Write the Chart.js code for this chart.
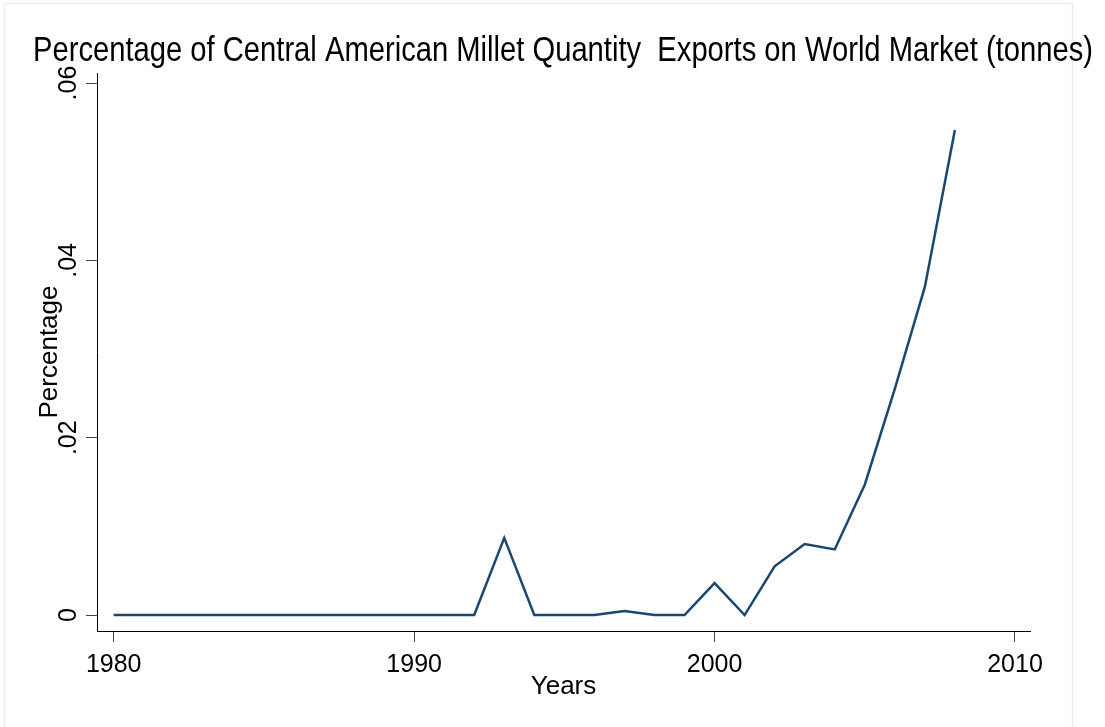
<!DOCTYPE html>
<html>
<head>
<meta charset="utf-8">
<script src="https://cdn.jsdelivr.net/npm/chart.js@4/dist/chart.umd.min.js"></script>
<style>
html, body { margin: 0; padding: 0; background: #ffffff; }
canvas { display: block; }
</style>
</head>
<body>
<canvas id="c" width="1105" height="727"></canvas>
<script>
// ---- data ----
const years = [1980, 1981, 1982, 1983, 1984, 1985, 1986, 1987, 1988, 1989,
               1990, 1991, 1992, 1993, 1994, 1995, 1996, 1997, 1998, 1999,
               2000, 2001, 2002, 2003, 2004, 2005, 2006, 2007, 2008];
const percentage = [0, 0, 0, 0, 0, 0, 0, 0, 0, 0,
                    0, 0, 0, 0.0087, 0, 0, 0, 0.00045, 0, 0,
                    0.0036, 0, 0.0055, 0.0080, 0.0074, 0.0147, 0.0255, 0.0370, 0.0547];
const xTickValues = [1980, 1990, 2000, 2010];
const xTickLabels = ['1980', '1990', '2000', '2010'];
const yTickValues = [0, 0.02, 0.04, 0.06];
const yTickLabels = ['0', '.02', '.04', '.06'];
const titleText = 'Percentage of Central American Millet Quantity  Exports on World Market (tonnes)';
const xTitle = 'Years';
const yTitle = 'Percentage';

const FONT = '"Liberation Sans", Arial, Helvetica, sans-serif';

const framePlugin = {
  id: 'frame',
  beforeDraw(chart) {
    const ctx = chart.ctx;
    ctx.save();
    ctx.fillStyle = '#ffffff';
    ctx.fillRect(0, 0, chart.width, chart.height);
    ctx.strokeStyle = '#e6eef2';
    ctx.lineWidth = 1.5;
    ctx.strokeRect(4.5, 3.5, 1068, 740);
    ctx.restore();
  }
};

new Chart(document.getElementById('c'), {
  type: 'line',
  data: {
    datasets: [{
      data: years.map((y, i) => ({ x: y, y: percentage[i] })),
      borderColor: '#1a476f',
      backgroundColor: '#1a476f',
      borderWidth: 2.5,
      pointRadius: 0,
      tension: 0,
      fill: false,
      yAxisID: 'y',
      xAxisID: 'x'
    }]
  },
  options: {
    responsive: false,
    animation: false,
    devicePixelRatio: 1,
    layout: { padding: { left: 33, right: 12, top: 30.5, bottom: 24.7 } },
    plugins: {
      legend: { display: false },
      tooltip: { enabled: false },
      title: {
        display: true,
        text: titleText,
        align: 'start',
        color: '#000000',
        font: { family: FONT, size: 35, weight: 'normal', lineHeight: 1.2 },
        padding: { top: 0, bottom: 0.5 }
      }
    },
    scales: {
      x: {
        type: 'linear',
        position: 'bottom',
        min: 1979.444,
        max: 2010.5,
        afterBuildTicks: s => { s.ticks = xTickValues.map(v => ({ value: v })); },
        afterFit: s => { s.height = 71.3; },
        grid: { drawOnChartArea: false, drawTicks: true, tickLength: 11, tickColor: '#444444', tickWidth: 1 },
        border: { display: true, color: '#000000', width: 1 },
        ticks: {
          autoSkip: false,
          maxRotation: 0,
          minRotation: 0,
          padding: 8,
          color: '#000000',
          font: { family: FONT, size: 25 },
          callback: (v) => { const i = xTickValues.indexOf(v); return i >= 0 ? xTickLabels[i] : ''; }
        },
        title: {
          display: true,
          text: xTitle,
          color: '#000000',
          font: { family: FONT, size: 26, lineHeight: 1.2 },
          padding: { top: 0, bottom: 0 }
        }
      },
      y: {
        type: 'linear',
        position: 'left',
        min: -0.0018,
        max: 0.06113,
        afterBuildTicks: s => { s.ticks = yTickValues.map(v => ({ value: v })); },
        afterFit: s => { s.width = 64; },
        grid: { drawOnChartArea: false, drawTicks: true, tickLength: 11, tickColor: '#444444', tickWidth: 1 },
        border: { display: true, color: '#000000', width: 1 },
        ticks: {
          autoSkip: false,
          minRotation: 90,
          maxRotation: 90,
          crossAlign: 'center',
          padding: 0,
          color: '#000000',
          font: { family: FONT, size: 25 },
          callback: (v) => { const i = yTickValues.findIndex(t => Math.abs(t - v) < 1e-9); return i >= 0 ? yTickLabels[i] : ''; }
        },
        title: {
          display: true,
          text: yTitle,
          color: '#000000',
          font: { family: FONT, size: 26, lineHeight: 1.2 },
          padding: { top: 1, bottom: 0 }
        }
      },
      yR: {
        type: 'linear',
        position: 'right',
        display: true,
        afterFit: s => { s.width = 63; },
        grid: { display: false, drawTicks: false, drawOnChartArea: false },
        border: { display: false },
        ticks: { display: false },
        title: { display: false }
      }
    }
  },
  plugins: [framePlugin]
});
</script>
</body>
</html>
